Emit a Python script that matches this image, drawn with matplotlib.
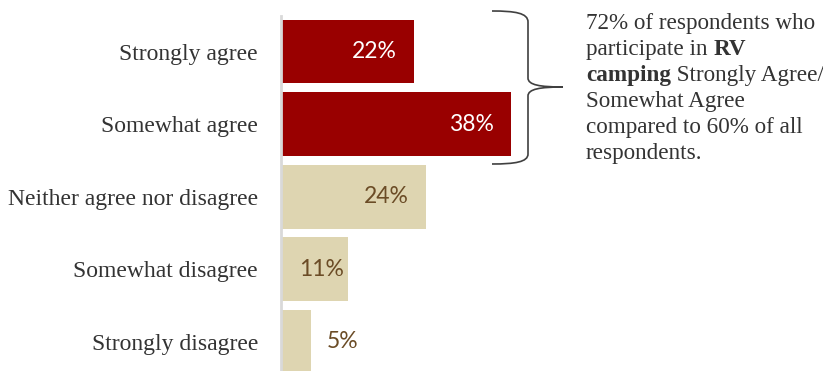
import matplotlib
matplotlib.use("Agg")
import matplotlib.pyplot as plt
from matplotlib.path import Path
from matplotlib.patches import PathPatch
from matplotlib.transforms import Affine2D

categories = ["Strongly agree", "Somewhat agree", "Neither agree nor disagree",
              "Somewhat disagree", "Strongly disagree"]
values = [22, 38, 24, 11, 5]
agree_color = "#990000"
other_color = "#ded5b1"
bar_colors = [agree_color, agree_color, other_color, other_color, other_color]
label_colors = ["white", "white", "#6b4c26", "#6b4c26", "#6b4c26"]

W, H = 823, 371
fig = plt.figure(figsize=(W / 100, H / 100), dpi=100)
fig.patch.set_facecolor("white")

# axes in pixel terms: left at 281, top at 16, down to the figure bottom
ax = fig.add_axes([281 / W, 0, (W - 281) / W, (H - 16) / H])
ypos = list(range(len(categories)))
ax.barh(ypos, values, height=0.88, color=bar_colors)
ax.set_xlim(0, (W - 281) / 6.05)
ax.set_ylim(4.40, -0.489)
for s in ["top", "right", "bottom"]:
    ax.spines[s].set_visible(False)
ax.spines["left"].set_color("#d9d9d9")
ax.spines["left"].set_linewidth(2)
ax.set_xticks([])
ax.set_yticks(ypos)
ax.set_yticklabels(categories, fontfamily="Liberation Serif", fontsize=17,
                   color="#333333")
ax.tick_params(axis="y", length=0, pad=16.5)

pct_font = dict(fontfamily="Lato", fontsize=16.5)
for y, v, c in zip(ypos, values, label_colors):
    if v >= 20:
        ax.annotate(f"{v}%", (v, y), xytext=(-17, 0), textcoords="offset pixels",
                    ha="right", va="center", color=c, **pct_font)
    elif v >= 10:
        ax.annotate(f"{v}%", (v, y), xytext=(-4, 0), textcoords="offset pixels",
                    ha="right", va="center", color=c, **pct_font)
    else:
        ax.annotate(f"{v}%", (v, y), xytext=(16, 0), textcoords="offset pixels",
                    ha="left", va="center", color=c, **pct_font)

# curly brace grouping the two agree bars (figure pixel coordinates, y down)
px = Affine2D().scale(1 / W, -1 / H).translate(0, 1) + fig.transFigure
verts = [(492, 11), (515, 11), (528, 13), (528, 22),
         (528, 78),
         (528, 85), (540, 87), (563, 87),
         (540, 87), (528, 89), (528, 96),
         (528, 154),
         (528, 162), (515, 164), (492, 164)]
codes = [Path.MOVETO, Path.CURVE4, Path.CURVE4, Path.CURVE4,
         Path.LINETO,
         Path.CURVE4, Path.CURVE4, Path.CURVE4,
         Path.CURVE4, Path.CURVE4, Path.CURVE4,
         Path.LINETO,
         Path.CURVE4, Path.CURVE4, Path.CURVE4]
fig.patches.append(PathPatch(Path(verts, codes), transform=px, fill=False,
                             edgecolor="#404040", linewidth=1.2))

# callout text with bold runs
lines = [
    [("72% of respondents who", "normal")],
    [("participate in ", "normal"), ("RV", "bold")],
    [("camping", "bold"), (" Strongly Agree/", "normal")],
    [("Somewhat Agree", "normal")],
    [("compared to 60% of all", "normal")],
    [("respondents.", "normal")],
]
renderer = fig.canvas.get_renderer()
x0 = 586
base0 = 29
step = 26
for i, runs in enumerate(lines):
    x = x0
    yb = base0 + i * step
    for txt, wt in runs:
        t = fig.text(x / W, 1 - yb / H, txt, fontfamily="Liberation Serif",
                     fontsize=16.7, fontweight=wt, color="#333333",
                     ha="left", va="baseline")
        bb = t.get_window_extent(renderer)
        x = bb.x1

fig.savefig("out.png", dpi=100)
